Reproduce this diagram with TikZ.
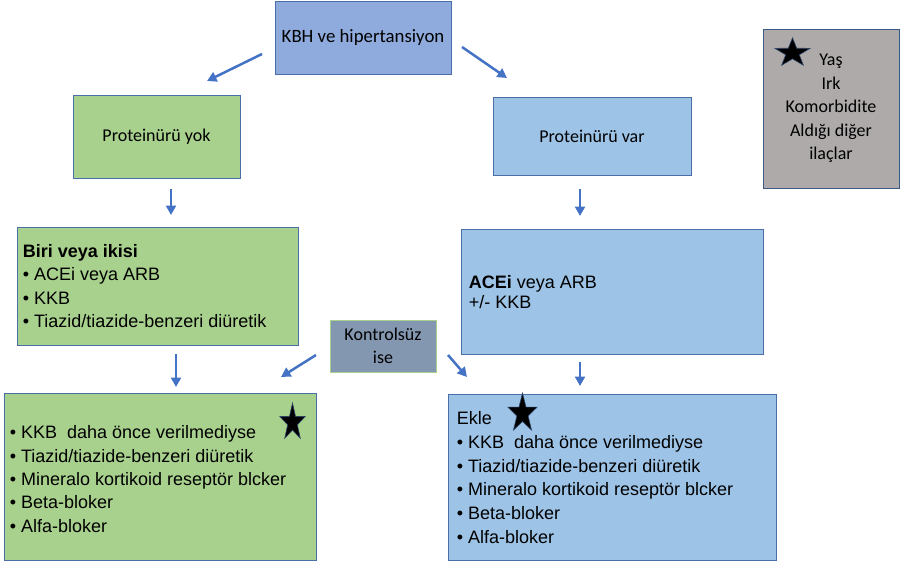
\documentclass[tikz,border=0pt]{standalone}
\usepackage{fontspec}
\setmainfont{Liberation Sans}
\newfontfamily\calibri{Carlito}
\usepackage{xcolor}
\usetikzlibrary{positioning, calc, shapes.geometric, arrows.meta}

\definecolor{hbox}{HTML}{8FAADC}
\definecolor{greenbox}{HTML}{A9D18E}
\definecolor{bluebox}{HTML}{9DC3E6}
\definecolor{greybox}{HTML}{AEAAAA}
\definecolor{slatebox}{HTML}{8497B0}
\definecolor{edge}{HTML}{4472C4}
\definecolor{frame}{HTML}{4A6FA8}
\definecolor{kontrolline}{HTML}{A9D18E}

\begin{document}
\begin{tikzpicture}[x=1pt, y=-1pt,
    flowbox/.style={draw=frame, line width=0.8pt, inner sep=0pt},
    calbox/.style={flowbox, align=center, font=\calibri\fontsize{18}{23.5}\selectfont},
    listtxt/.style={anchor=west, align=left, inner sep=0pt, font=\fontsize{18}{23.3}\selectfont},
    arw/.style={draw=edge, line width=2.5pt, -{Triangle[length=9.5pt,width=10pt]}},
    starmark/.style={star, star points=5, star point ratio=2.6, inner sep=0pt, fill=black, draw=frame!60!black, line width=0.6pt, transform shape}]
    \useasboundingbox (0,0) rectangle (901,564);

    \node[calbox, fill=hbox, minimum width=176pt, minimum height=73pt, font=\calibri\fontsize{18.8}{23.5}\selectfont] (kbh) at (363,37.5) {KBH ve hipertansiyon};
    \node[calbox, fill=greenbox, minimum width=167pt, minimum height=83pt] (pyok) at (156.5,136.5) {Proteinürü yok};
    \node[calbox, fill=bluebox, minimum width=198pt, minimum height=78pt] (pvar) at (592,136) {Proteinürü var};
    \node[calbox, fill=greybox, draw=frame!80!black, minimum width=136pt, minimum height=159pt] (risk) at (831,108.5) {Yaş\\Irk\\Komorbidite\\Aldığı diğer\\ilaçlar};
    \node[flowbox, fill=greenbox, minimum width=281pt, minimum height=118pt] (biri) at (157.5,286) {};
    \node[flowbox, fill=bluebox, minimum width=302pt, minimum height=125pt] (acei) at (612,291.5) {};
    \node[calbox, fill=slatebox, draw=kontrolline, minimum width=106pt, minimum height=52pt] (kontrol) at (383,346) {Kontrolsüz\\ise};
    \node[flowbox, fill=greenbox, minimum width=312pt, minimum height=167pt] (yokekle) at (160,476.5) {};
    \node[flowbox, fill=bluebox, minimum width=328pt, minimum height=166pt] (varekle) at (612,477) {};

    \node[listtxt] (biritxt) at ($(biri.west)+(6,0)$) {\textbf{Biri veya ikisi}\\• ACEi veya ARB\\• KKB\\• Tiazid/tiazide-benzeri diüretik};
    \node[listtxt, font=\fontsize{18}{20}\selectfont] (aceitxt) at ($(acei.west)+(8,0.5)$) {\textbf{ACEi} veya ARB\\+/- KKB};
    \node[listtxt] (yoktxt) at ($(yokekle.west)+(6,2.5)$) {• KKB\ \ daha önce verilmediyse\\• Tiazid/tiazide-benzeri diüretik\\• Mineralo kortikoid reseptör blcker\\• Beta-bloker\\• Alfa-bloker};
    \node[listtxt, font=\fontsize{18}{23.8}\selectfont] (vartxt) at ($(varekle.west)+(9,0.5)$) {Ekle\\• KKB\ \ daha önce verilmediyse\\• Tiazid/tiazide-benzeri diüretik\\• Mineralo kortikoid reseptör blcker\\• Beta-bloker\\• Alfa-bloker};

    \begin{scope}[shift={(792.5,53)}, yscale=0.82]
        \node[starmark, minimum size=37pt] (riskstar) at (0,0) {};
    \end{scope}
    \begin{scope}[shift={(292.5,422.5)}, xscale=0.68]
        \node[starmark, minimum size=39pt] (yokstar) at (0,0) {};
    \end{scope}
    \begin{scope}[shift={(522.5,413.5)}, xscale=0.75]
        \node[starmark, minimum size=41pt] (varstar) at (0,0) {};
    \end{scope}

    \coordinate (kbhl) at (262,54);
    \coordinate (yoktop) at (207,81);
    \coordinate (kbhr) at (462,47);
    \coordinate (vartop) at (507,78);
    \coordinate (yokalt) at (171,189);
    \coordinate (biritop) at (171,215);
    \coordinate (varalt) at (580,189);
    \coordinate (aceitop) at (580,216);
    \coordinate (birialt) at (176,354);
    \coordinate (yokekletop) at (176,387);
    \coordinate (aceialt) at (580,362);
    \coordinate (varekletop) at (580,386);
    \coordinate (kontroll) at (316,355);
    \coordinate (kontrolle) at (281,377);
    \coordinate (kontrolr) at (448,355);
    \coordinate (kontrolre) at (467,377);

    \draw[arw] (kbhl) -- (yoktop);
    \draw[arw] (kbhr) -- (vartop);
    \draw[arw] (yokalt) -- (biritop);
    \draw[arw] (varalt) -- (aceitop);
    \draw[arw] (birialt) -- (yokekletop);
    \draw[arw] (aceialt) -- (varekletop);
    \draw[arw] (kontroll) -- (kontrolle);
    \draw[arw] (kontrolr) -- (kontrolre);
\end{tikzpicture}
\end{document}
